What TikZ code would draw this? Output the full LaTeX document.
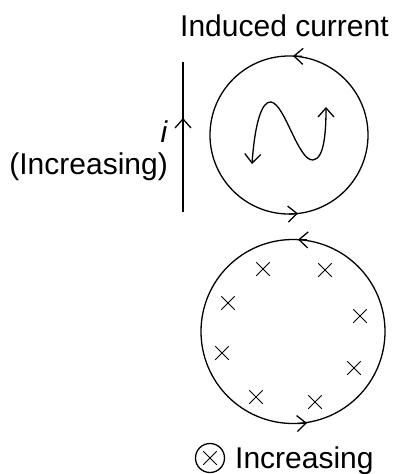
\documentclass[tikz,border=0pt]{standalone}
\usepackage{fontspec}
\setmainfont{Liberation Sans}
\usetikzlibrary{arrows.meta, shapes.misc}

\begin{document}
\begin{tikzpicture}[x=1pt, y=-1pt,
      barb/.tip={Straight Barb[length=9pt,width=16pt]},
      wire/.style={line width=1.3pt},
      arr/.style={wire, -barb},
      lbl/.style={font=\fontsize{30}{36}\selectfont, inner sep=0pt},
      xmark/.style={cross out, draw, line width=1pt, minimum size=12.5pt, inner sep=0pt}
    ]
    \useasboundingbox (0,0) rectangle (395,474);
    % straight wire with increasing current
    \coordinate (wbot) at (183,212);
    \coordinate (wtop) at (183,62);
    \draw[wire] (wbot) -- (wtop);
    \draw[arr] (183,129) -- (183,118);
    \node[lbl, font=\fontsize{30}{36}\selectfont\itshape] (i) at (164,132) {i};
    \node[lbl, anchor=base east] (inc) at (168,174) {(Increasing)};
    % loop near the wire
    \coordinate (c1) at (289,135);
    \draw[wire] (c1) circle (79);
    \draw[arr] (302,56.3) -- (293,56);
    \draw[arr] (289,214) -- (298,213.5);
    \node[lbl, anchor=base west] (ind) at (180,36) {Induced current};
    \draw[wire, barb-barb] (252,164) .. controls (255,122) and (262,101) .. (271,102)
          .. controls (285,104) and (298,161) .. (313,160)
          .. controls (325,159) and (326,128) .. (326,107);
    % loop in changing field
    \coordinate (c2) at (293,331.5);
    \draw[wire] (c2) circle (92);
    \draw[arr] (307,239.9) -- (298,239.6);
    \draw[arr] (298,423.5) -- (307,423);
    \foreach \n/\p in {1/{(263,269)}, 2/{(325,270)}, 3/{(228,303)}, 4/{(360,316)},
                       5/{(222,353)}, 6/{(354,368)}, 7/{(256,397)}, 8/{(315,402)}}
      \node[xmark] (x\n) at \p {};
    % legend
    \node[circle, draw, line width=1.3pt, minimum size=29pt, inner sep=0pt] (leg) at (210,458) {};
    \node[xmark] (legx) at (leg) {};
    \node[lbl, anchor=base west] (legt) at (235,468) {Increasing};
  \end{tikzpicture}
\end{document}
